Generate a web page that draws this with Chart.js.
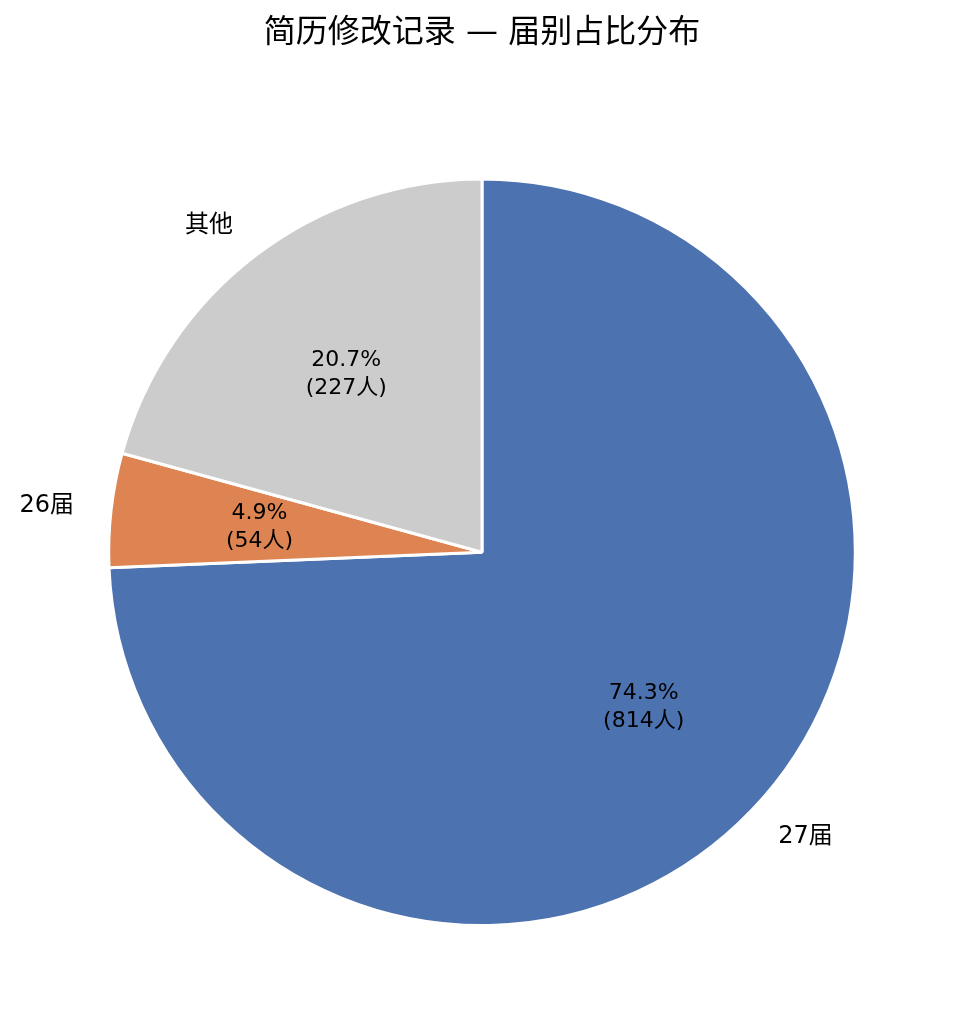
<!DOCTYPE html>
<html>
<head>
<meta charset="utf-8">
<script src="https://cdn.jsdelivr.net/npm/chart.js@4"></script>
<style>
  body { margin: 0; background: #fff; }
  #wrap { width: 964px; height: 1035px; }
</style>
</head>
<body>
<div id="wrap"><canvas id="chartBie" width="964" height="1035"></canvas></div>
<script>
// dados
const categorias = ["27届", "26届", "其他"];
const pessoas = [814, 54, 227];
const cores = ["#4c72b0", "#dd8452", "#cccccc"];

const fonte = "'DejaVu Sans', 'Noto Sans CJK SC', sans-serif";

// rótulos dentro e fora das fatias
const rotulos = {
    id: "rotulos",
    afterDatasetsDraw(chart) {
        const ctx = chart.ctx;
        const meta = chart.getDatasetMeta(0);
        const total = pessoas.reduce((a, b) => a + b, 0);
        ctx.save();
        ctx.fillStyle = "#000";
        ctx.textBaseline = "middle";
        meta.data.forEach((arc, i) => {
            const p = arc.getProps(["x", "y", "startAngle", "endAngle", "outerRadius"], true);
            const meio = (p.startAngle + p.endAngle) / 2;
            // dentro
            const rIn = p.outerRadius * 0.6;
            const xi = p.x + Math.cos(meio) * rIn;
            const yi = p.y + Math.sin(meio) * rIn;
            ctx.textAlign = "center";
            ctx.font = "22px " + fonte;
            ctx.fillText((pessoas[i] / total * 100).toFixed(1) + "%", xi, yi - 14);
            ctx.fillText("(" + pessoas[i] + "人)", xi, yi + 14);
            // fora (alinhado pelo lado)
            const rOut = p.outerRadius * 1.1;
            const xo = p.x + Math.cos(meio) * rOut;
            const yo = p.y + Math.sin(meio) * rOut;
            ctx.textAlign = Math.cos(meio) >= 0 ? "left" : "right";
            ctx.font = "24px " + fonte;
            ctx.fillText(categorias[i], xo, yo);
        });
        ctx.restore();
    }
};

new Chart(document.getElementById("chartBie"), {
    type: "pie",
    data: {
        labels: categorias,
        datasets: [{
            data: pessoas,
            backgroundColor: cores,
            borderColor: "#ffffff",
            borderWidth: 3
        }]
    },
    options: {
        responsive: false,
        animation: false,
        layout: {
            padding: { left: 107, right: 107, bottom: 108 }
        },
        plugins: {
            legend: { display: false },
            tooltip: { enabled: false },
            title: {
                display: true,
                text: "简历修改记录 — 届别占比分布",
                color: "#000",
                font: { family: fonte, size: 32, weight: "normal" },
                padding: { top: 14, bottom: 125 }
            }
        }
    },
    plugins: [rotulos]
});
</script>
</body>
</html>
